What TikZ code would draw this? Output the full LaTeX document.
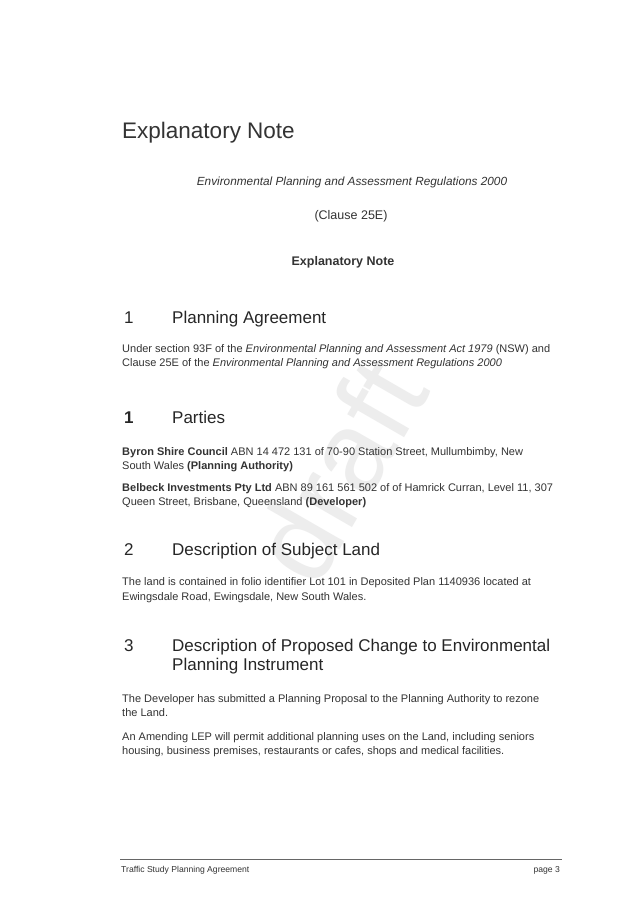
\documentclass[tikz,border=0pt]{standalone}
\usepackage{fontspec}
\setmainfont{Liberation Sans}
\begin{document}
\begin{tikzpicture}[x=1pt,y=-1pt,
  tx/.style={anchor=base west,inner sep=0pt,font=\fontsize{11}{13}\selectfont,text=black!80},
  hd/.style={anchor=base west,inner sep=0pt,font=\fontsize{17}{20}\selectfont,text=black!85},
  ctr/.style={anchor=base,inner sep=0pt,font=\fontsize{12.5}{14}\selectfont,text=black!80}]
\useasboundingbox[fill=white] (0,0) rectangle (637,901);
\node[rotate=60,text=black!7,font=\fontsize{115}{115}\selectfont] (wm) at (338,470) {draft};
\node[tx,font=\fontsize{22.5}{26}\selectfont] (t) at (122,139) {Explanatory Note};
\node[ctr,font=\fontsize{11.8}{14}\itshape] (r) at (352,186) {Environmental Planning and Assessment Regulations 2000};
\node[ctr] (c) at (351,219) {(Clause 25E)};
\node[ctr,font=\fontsize{12.5}{14}\bfseries] (e) at (343,265) {Explanatory Note};
\node[hd] (n1) at (124,323) {1};
\node[hd] (h1) at (172,323) {Planning Agreement};
\node[tx] (p1) at (122,352) {Under section 93F of the \textit{Environmental Planning and Assessment Act 1979} (NSW) and};
\node[tx] (p2) at (122,366) {Clause 25E of the \textit{Environmental Planning and Assessment Regulations 2000}};
\node[hd,font=\fontsize{17}{20}\bfseries] (n2) at (124,423) {1};
\node[hd] (h2) at (172,423) {Parties};
\node[tx] (b1) at (122,455) {\textbf{Byron Shire Council} ABN 14 472 131 of 70-90 Station Street, Mullumbimby, New};
\node[tx] (b2) at (122,469) {South Wales \textbf{(Planning Authority)}};
\node[tx] (b3) at (122,491) {\textbf{Belbeck Investments Pty Ltd} ABN 89 161 561 502 of of Hamrick Curran, Level 11, 307};
\node[tx] (b4) at (122,505) {Queen Street, Brisbane, Queensland \textbf{(Developer)}};
\node[hd] (n3) at (124,555) {2};
\node[hd] (h3) at (172,555) {Description of Subject Land};
\node[tx] (l1) at (122,585) {The land is contained in folio identifier Lot 101 in Deposited Plan 1140936 located at};
\node[tx] (l2) at (122,600) {Ewingsdale Road, Ewingsdale, New South Wales.};
\node[hd] (n4) at (124,651) {3};
\node[hd] (h4) at (172,651) {Description of Proposed Change to Environmental};
\node[hd] (h5) at (172,670) {Planning Instrument};
\node[tx] (d1) at (122,702) {The Developer has submitted a Planning Proposal to the Planning Authority to rezone};
\node[tx] (d2) at (122,716) {the Land.};
\node[tx] (d3) at (122,740) {An Amending LEP will permit additional planning uses on the Land, including seniors};
\node[tx] (d4) at (122,754) {housing, business premises, restaurants or cafes, shops and medical facilities.};
\coordinate (fa) at (120,859); \coordinate (fb) at (562,859);
\draw[black!60,line width=0.5] (fa) -- (fb);
\node[tx,font=\fontsize{8.6}{10}\selectfont] (f1) at (121,872) {Traffic Study Planning Agreement};
\node[tx,anchor=base east,font=\fontsize{8.6}{10}\selectfont] (f2) at (560,872) {page 3};
\end{tikzpicture}
\end{document}
